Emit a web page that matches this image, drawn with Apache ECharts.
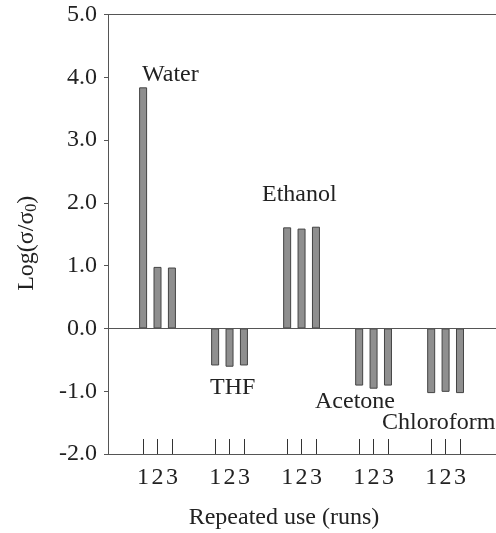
<!DOCTYPE html>
<html>
<head>
<meta charset="utf-8">
<script src="https://cdn.jsdelivr.net/npm/echarts@6/dist/echarts.min.js"></script>
<style>
  html, body { margin: 0; padding: 0; background: #fff; }
  #chart { width: 496px; height: 533px; }
</style>
</head>
<body>
<div id="chart"></div>
<script>
  // solvents and the three repeated runs
  const solvents = ['Water', 'THF', 'Ethanol', 'Acetone', 'Chloroform']
  const runs = ['1', '2', '3']
  // Log(sigma/sigma0) per solvent for each run
  const run1 = [3.84, -0.59, 1.61, -0.91, -1.03]
  const run2 = [0.98, -0.61, 1.59, -0.96, -1.01]
  const run3 = [0.97, -0.59, 1.62, -0.91, -1.03]
  const yTicks = ['-2.0', '-1.0', '0.0', '1.0', '2.0', '3.0', '4.0', '5.0']

  const slot = 5 // slots per solvent group on the x scale
  const runValues = [run1, run2, run3]
  const bars = []
  const positions = []
  solvents.forEach((s, i) => {
    runValues.forEach((vals, j) => {
      const x = i * slot + j + 1
      positions.push(x)
      bars.push([x, vals[i]])
    })
  })

  const font = 'Liberation Serif'
  const ink = '#222'
  const lineColor = '#555'
  const labelFont = '24px "Liberation Serif"'

  const chart = echarts.init(document.getElementById('chart'))
  chart.setOption({
    animation: false,
    grid: { left: 108, right: 0, top: 14.5, bottom: 79, containLabel: false, outerBoundsMode: 'none' },
    xAxis: [
      {
        type: 'value',
        min: -1.4375,
        max: 25.5,
        name: 'Repeated use (runs)',
        nameLocation: 'middle',
        nameGap: 52,
        nameMoveOverlap: false,
        nameTextStyle: { fontFamily: font, fontSize: 24, color: ink, padding: [0, 36, 0, 0] },
        splitLine: { show: false },
        axisLine: { onZero: false, lineStyle: { color: lineColor, width: 1 } },
        axisTick: { inside: true, length: 15, customValues: positions, lineStyle: { color: '#333' } },
        axisLabel: {
          customValues: positions,
          margin: 12,
          fontFamily: font, fontSize: 24, color: ink,
          formatter: v => runs[(Math.round(v) - 1) % slot]
        }
      },
      {
        type: 'value',
        position: 'top',
        min: -1.4375,
        max: 25.5,
        splitLine: { show: false },
        axisLine: { show: true, onZero: false, lineStyle: { color: lineColor, width: 1 } },
        axisTick: { show: false },
        axisLabel: { show: false }
      }
    ],
    yAxis: {
      type: 'value',
      min: -2,
      max: 5,
      interval: 1,
      name: 'Log(σ/σ{sub|0})',
      nameLocation: 'middle',
      nameGap: 68,
      nameMoveOverlap: false,
      nameTextStyle: {
        fontFamily: font, fontSize: 24, color: ink, padding: [0, 18, 0, 0],
        rich: { sub: { fontFamily: font, fontSize: 16, color: ink, verticalAlign: 'bottom', padding: [10, 0, 0, 0] } }
      },
      splitLine: { show: false },
      axisLine: { show: true, onZero: false, lineStyle: { color: lineColor, width: 1 } },
      axisTick: { show: true, length: 4, lineStyle: { color: lineColor } },
      axisLabel: {
        margin: 11,
        fontFamily: font, fontSize: 24, color: ink,
        formatter: v => yTicks[Math.round(v) + 2]
      }
    },
    series: [{
      type: 'bar',
      data: bars,
      barWidth: 8,
      itemStyle: { color: '#8f8f8f', borderColor: '#444', borderWidth: 1 },
      markLine: {
        silent: true,
        symbol: 'none',
        label: { show: false },
        lineStyle: { color: lineColor, width: 1, type: 'solid' },
        data: [{ yAxis: 0 }]
      }
    }],
    graphic: [
      { type: 'text', left: 142, top: 62.5, style: { text: solvents[0], font: labelFont, fill: ink } },
      { type: 'text', left: 210, top: 376, style: { text: solvents[1], font: labelFont, fill: ink } },
      { type: 'text', left: 262, top: 182.5, style: { text: solvents[2], font: labelFont, fill: ink } },
      { type: 'text', left: 315, top: 390, style: { text: solvents[3], font: labelFont, fill: ink } },
      { type: 'text', left: 382, top: 411, style: { text: solvents[4], font: labelFont, fill: ink } }
    ]
  })
</script>
</body>
</html>
